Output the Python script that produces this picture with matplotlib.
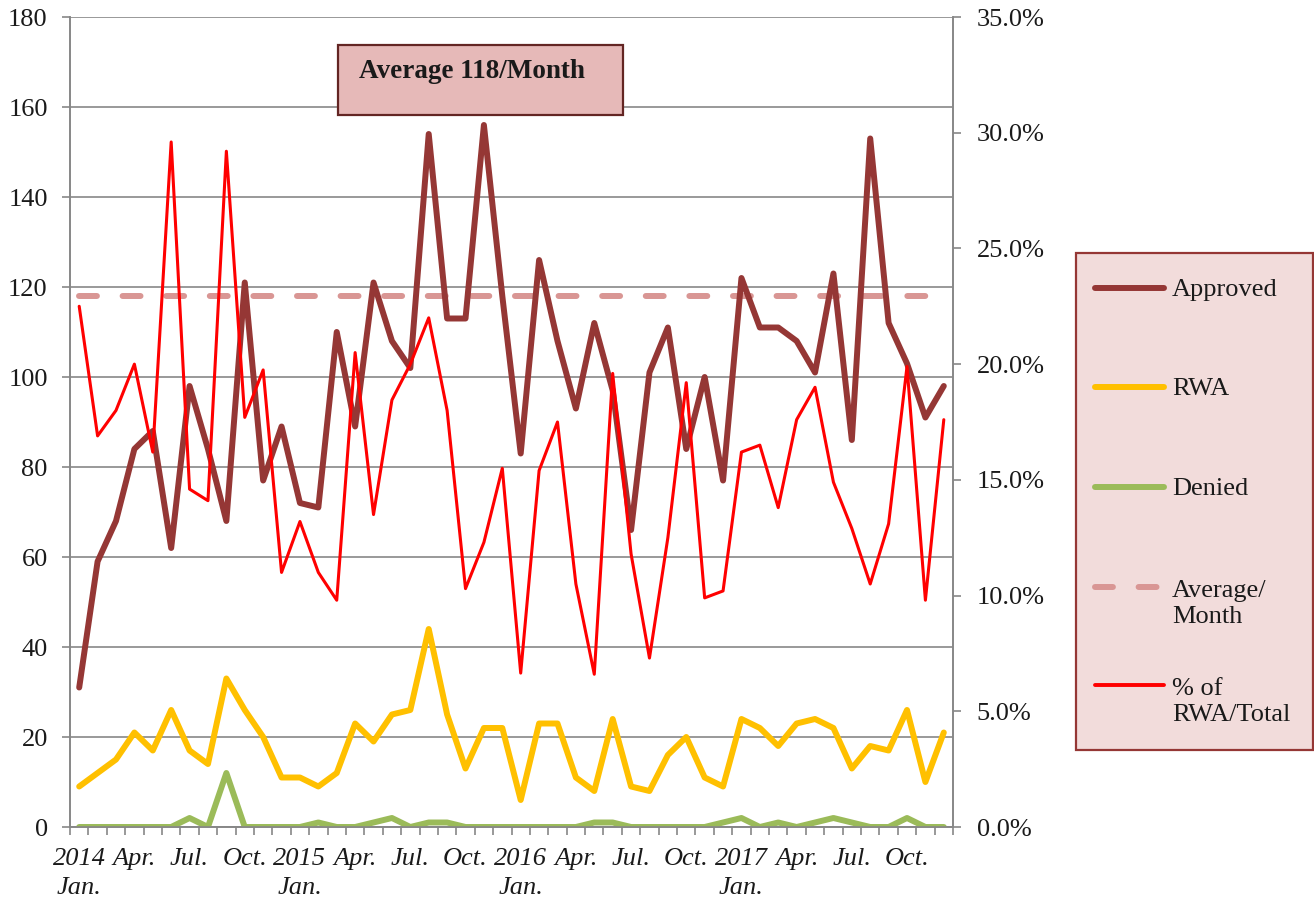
import matplotlib
matplotlib.use("Agg")
import matplotlib.pyplot as plt
from matplotlib.lines import Line2D
from matplotlib.patches import Rectangle
from matplotlib.ticker import FuncFormatter

plt.rcParams['font.family'] = ['Liberation Serif', 'DejaVu Serif']

# monthly data, Jan 2014 .. Dec 2017
approved = [31, 59, 68, 84, 88, 62, 98, 84, 68, 121, 77, 89,
            72, 71, 110, 89, 121, 108, 102, 154, 113, 113, 156, 118,
            83, 126, 108, 93, 112, 97, 66, 101, 111, 84, 100, 77,
            122, 111, 111, 108, 101, 123, 86, 153, 112, 103, 91, 98]
rwa = [9, 12, 15, 21, 17, 26, 17, 14, 33, 26, 20, 11,
       11, 9, 12, 23, 19, 25, 26, 44, 25, 13, 22, 22,
       6, 23, 23, 11, 8, 24, 9, 8, 16, 20, 11, 9,
       24, 22, 18, 23, 24, 22, 13, 18, 17, 26, 10, 21]
denied = [0, 0, 0, 0, 0, 0, 2, 0, 12, 0, 0, 0,
          0, 1, 0, 0, 1, 2, 0, 1, 1, 0, 0, 0,
          0, 0, 0, 0, 1, 1, 0, 0, 0, 0, 0, 1,
          2, 0, 1, 0, 1, 2, 1, 0, 0, 2, 0, 0]
pct_rwa = [22.5, 16.9, 18.0, 20.0, 16.2, 29.6, 14.6, 14.1, 29.2, 17.7, 19.75, 11.0,
           13.2, 11.0, 9.8, 20.5, 13.5, 18.45, 20.0, 22.0, 18.0, 10.3, 12.3, 15.5,
           6.65, 15.4, 17.5, 10.5, 6.6, 19.6, 11.8, 7.3, 12.5, 19.2, 9.9, 10.2,
           16.2, 16.5, 13.8, 17.6, 19.0, 14.9, 12.9, 10.5, 13.1, 19.9, 9.8, 17.6]
average = 118

years = [2014, 2015, 2016, 2017]
quarter_names = ["Jan.", "Apr.", "Jul.", "Oct."]

months = list(range(len(approved)))
pct_frac = [p / 100 for p in pct_rwa]

W, H = 1314, 897
fig = plt.figure(figsize=(W / 100, H / 100), dpi=100)

def fx(px):
    return px / W

def fy(py):
    return 1 - py / H

ax = fig.add_axes([fx(70), fy(827), fx(953) - fx(70), fy(17) - fy(827)])
ax2 = ax.twinx()

c_appr = "#953735"
c_rwa = "#FFC000"
c_den = "#9BBB59"
c_avg = "#D99694"
c_pct = "#FF0000"
grey = "#878787"
txt = "#1a1a1a"
fs = 19

line_kw = dict(solid_joinstyle="round", solid_capstyle="round")
ax.plot(months, [average] * len(months), color=c_avg, lw=4.3,
        dashes=(3.0, 4.3), dash_capstyle="round", zorder=3)
ax.plot(months, approved, color=c_appr, lw=4.3, zorder=4, **line_kw)
ax.plot(months, rwa, color=c_rwa, lw=4.3, zorder=4, **line_kw)
ax.plot(months, denied, color=c_den, lw=4.3, zorder=4, **line_kw)
ax2.plot(months, pct_frac, color=c_pct, lw=2.2, zorder=5, **line_kw)

ax.set_xlim(-0.5, len(months) - 0.5)
ax.set_ylim(0, 180)
ax2.set_ylim(0, 0.35)

ax.set_yticks(range(0, 181, 20))
ax2.set_yticks([i * 0.05 for i in range(8)])
ax2.yaxis.set_major_formatter(FuncFormatter(lambda v, p: f"{v * 100:.1f}%"))

ax.grid(axis="y", color=grey, lw=1.2)
ax.set_axisbelow(True)

# x labels at quarter starts, tick marks on month boundaries
tick_pos, tick_lab = [], []
for yi, yr in enumerate(years):
    for qi, qn in enumerate(quarter_names):
        tick_pos.append(yi * 12 + qi * 3)
        tick_lab.append(f"{yr}\n{qn}" if qi == 0 else qn)
ax.set_xticks(tick_pos)
ax.set_xticklabels(tick_lab, fontstyle="italic", linespacing=1.42)
ax.set_xticks([i - 0.5 for i in range(len(months) + 1)], minor=True)
ax.tick_params(axis="x", which="major", length=0, pad=15, labelsize=fs, labelcolor=txt)
ax.tick_params(axis="x", which="minor", length=6, width=1.2, color=grey)
ax.tick_params(axis="y", length=6, width=1.2, color=grey, pad=10, labelsize=fs, labelcolor=txt)
ax2.tick_params(axis="y", length=6, width=1.2, color=grey, pad=11, labelsize=fs, labelcolor=txt)

for a in (ax, ax2):
    a.spines["top"].set_visible(False)
    for s in ("left", "right", "bottom"):
        a.spines[s].set_color(grey)
        a.spines[s].set_linewidth(1.2)

# "Average 118/Month" box
fig.add_artist(Rectangle((fx(338), fy(115)), fx(623) - fx(338), fy(45) - fy(115),
                         transform=fig.transFigure, facecolor="#E6B9B8",
                         edgecolor="#632523", lw=1.6, zorder=10))
fig.text(fx(359), fy(72), f"Average {average}/Month", fontsize=19.5, fontweight="bold",
         ha="left", va="center", color=txt, zorder=11)

# legend panel
fig.add_artist(Rectangle((fx(1076), fy(750)), fx(1313) - fx(1076), fy(253) - fy(750),
                         transform=fig.transFigure, facecolor="#F2DCDB",
                         edgecolor="#953735", lw=1.6, zorder=10))
legend_items = [
    ("Approved", c_appr, 4.3, None, 288),
    ("RWA", c_rwa, 4.3, None, 387),
    ("Denied", c_den, 4.3, None, 487),
    ("Average/\nMonth", c_avg, 4.3, (3.0, 4.3), 587),
    ("% of\nRWA/Total", c_pct, 2.8, None, 685),
]
line_h = 30
for label, col, lw, dash, ypx in legend_items:
    kw = dict(solid_capstyle="round")
    if dash:
        kw = dict(dashes=dash, dash_capstyle="round")
    fig.add_artist(Line2D([fx(1095), fx(1164)], [fy(ypx), fy(ypx)], color=col, lw=lw,
                          transform=fig.transFigure, zorder=11, **kw))
    n = label.count("\n") + 1
    fig.text(fx(1172), fy(ypx + (n - 1) * line_h / 2 + 2), label, fontsize=fs,
             ha="left", va="center", color=txt, linespacing=1.18, zorder=11)

fig.savefig("out.png", dpi=100)
